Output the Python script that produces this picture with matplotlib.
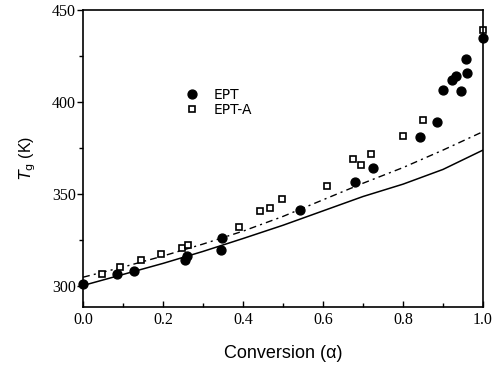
import matplotlib
matplotlib.use("Agg")
import matplotlib.pyplot as plt
from matplotlib.ticker import MultipleLocator

# Data
ept_x = [0.0, 0.086, 0.128, 0.255, 0.259, 0.347, 0.344, 0.543, 0.680, 0.726,
         0.843, 0.884, 0.901, 0.923, 0.932, 0.944, 0.959, 0.958, 1.0]
ept_tg = [301.5, 306.9, 308.3, 314.1, 316.3, 326.5, 320.0, 341.7, 356.5, 364.5,
          381.2, 389.0, 406.5, 412.0, 414.1, 406.0, 415.6, 423.4, 434.6]

epta_x = [0.047, 0.093, 0.144, 0.195, 0.247, 0.263, 0.390, 0.443, 0.468, 0.497,
          0.609, 0.676, 0.694, 0.719, 0.799, 0.851, 1.0]
epta_tg = [306.9, 310.5, 314.1, 317.8, 321.0, 322.3, 332.5, 340.8, 342.8, 347.3,
           354.3, 368.9, 365.8, 372.1, 381.7, 390.2, 439.0]

curve_x = [0.0, 0.1, 0.2, 0.3, 0.4, 0.5, 0.6, 0.7, 0.8, 0.9, 1.0]
solid_tg = [300.5, 306.5, 312.5, 319.0, 326.0, 333.2, 341.0, 348.8, 355.5, 363.5, 374.0]
dashdot_tg = [305.0, 310.5, 316.5, 323.0, 330.0, 338.0, 347.0, 356.0, 364.5, 374.0, 384.0]

fig = plt.figure(figsize=(4.99, 3.71), dpi=100)
ax = fig.add_axes([0.1663, 0.1733, 0.8017, 0.7997])

ax.plot(curve_x, solid_tg, color="black", lw=1.1)
ax.plot(curve_x, dashdot_tg, color="black", lw=1.0, dashes=(5, 3, 1.5, 3))

ax.plot(ept_x, ept_tg, "o", color="black", ms=6.4, label="EPT", clip_on=False)
ax.plot(epta_x, epta_tg, "s", mfc="white", mec="black", mew=1.2, ms=5,
        label="EPT-A", clip_on=False)

ax.set_xlim(0.0, 1.0)
ax.set_ylim(289, 450)
ax.xaxis.set_major_locator(MultipleLocator(0.2))
ax.xaxis.set_minor_locator(MultipleLocator(0.1))
ax.yaxis.set_major_locator(MultipleLocator(50))
ax.yaxis.set_minor_locator(MultipleLocator(25))

ax.tick_params(axis="x", which="both", direction="in", width=1.0)
ax.tick_params(axis="x", which="major", length=4, pad=4)
ax.tick_params(axis="x", which="minor", length=3)
ax.tick_params(axis="y", which="both", direction="out", width=1.0)
ax.tick_params(axis="y", which="major", length=4, pad=1)
ax.tick_params(axis="y", which="minor", length=3)

for lab in ax.get_xticklabels() + ax.get_yticklabels():
    lab.set_family("Liberation Serif")
    lab.set_fontsize(11.5)

for sp in ax.spines.values():
    sp.set_linewidth(1.2)

ax.set_xlabel("Conversion (\u03b1)", family="Liberation Sans", fontsize=13, labelpad=12)
ax.set_ylabel("$\\mathit{T}_\\mathsf{g}$ (K)", family="Liberation Sans", fontsize=11.5,
              labelpad=10)

leg = ax.legend(loc="upper left", bbox_to_anchor=(0.225, 0.78), frameon=False,
                handletextpad=1.0, labelspacing=0.1, handlelength=1.0,
                prop={"family": "DejaVu Sans", "size": 10})

fig.savefig("out.png", dpi=100)
